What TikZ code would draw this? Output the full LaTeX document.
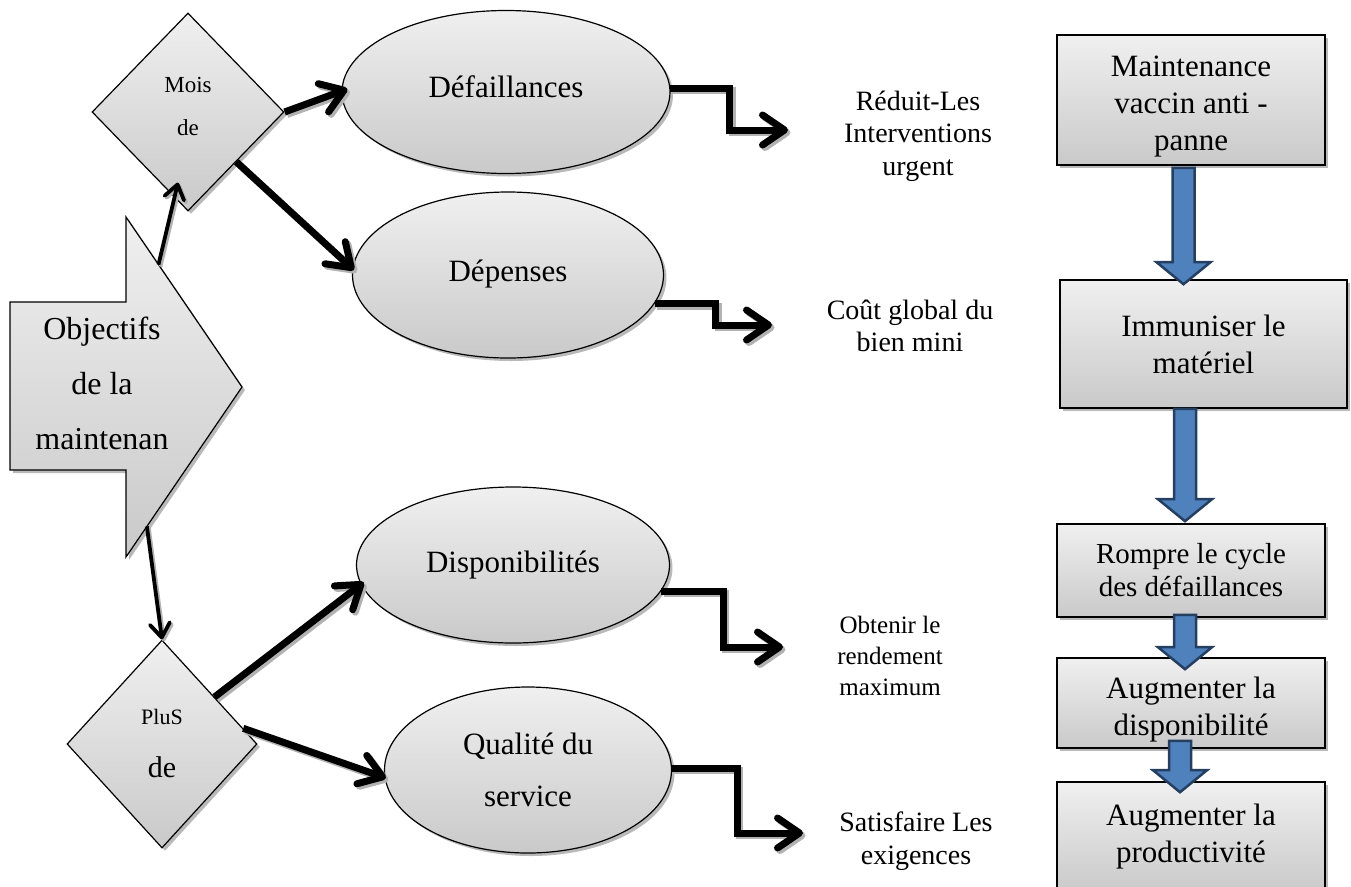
\documentclass[tikz,border=0pt]{standalone}
\usepackage{fontspec}
\setmainfont{Liberation Serif}
\usetikzlibrary{shapes.geometric, arrows.meta, positioning, calc, shadows}

\definecolor{arrowblue}{HTML}{4F81BD}
\definecolor{arrownavy}{HTML}{243F60}

\newcommand{\fobj}{\fontsize{32}{55}\selectfont}
\newcommand{\fell}{\fontsize{31}{52}\selectfont}
\newcommand{\fside}{\fontsize{28}{32.5}\selectfont}
\newcommand{\fsidesm}{\fontsize{25}{31}\selectfont}
\newcommand{\frect}{\fontsize{31}{37}\selectfont}
\newcommand{\frectsm}{\fontsize{29}{33}\selectfont}

\tikzset{
  shadowed/.style={drop shadow={shadow xshift=3pt, shadow yshift=-3pt, fill=gray!55, opacity=1}},
  grayfill/.style={draw, top color=gray!12, bottom color=gray!42, shadowed},
  oval/.style={ellipse, grayfill, line width=1.2pt, align=center, font=\fell},
  losange/.style={diamond, grayfill, line width=1.2pt, align=center, inner sep=0pt},
  rectbox/.style={rectangle, grayfill, line width=1.6pt, align=center, font=\frect},
  sidetxt/.style={align=center, font=\fside},
  link/.style={line width=7pt, -{Straight Barb[length=22pt, width=30pt, round]},
    preaction={draw=gray!60, line width=7pt, -{Straight Barb[length=22pt, width=30pt, round]},
      transform canvas={xshift=2.5pt, yshift=-2.5pt}}},
  thinlink/.style={line width=3.8pt, -{Straight Barb[length=14pt, width=20pt, round]},
    preaction={draw=gray!60, line width=3.8pt, -{Straight Barb[length=14pt, width=20pt, round]},
      transform canvas={xshift=2pt, yshift=-2pt}}},
  bluearrow/.style={fill=arrowblue, draw=arrownavy, line width=2.5pt, line join=miter}
}

% block arrow from a start point down to a tip
\newcommand{\blockarrow}[2]{%
  \draw[bluearrow] let \p1=#1, \p2=#2 in
    (\x2-11pt,\y1) -- (\x2+11pt,\y1) -- (\x2+11pt,\y2+22pt) -- (\x2+27pt,\y2+22pt)
    -- (\x2,\y2) -- (\x2-27pt,\y2+22pt) -- (\x2-11pt,\y2+22pt) -- cycle;}

\begin{document}
\begin{tikzpicture}[x=1pt, y=-1pt]
\useasboundingbox (0,0) rectangle (1351,886);
\clip (0,0) rectangle (1351,886);

% big arrow on the left
\coordinate (hT) at (126,217);
\coordinate (hB) at (126,557);
\coordinate (hTip) at (242,387);
\draw[grayfill, line width=1.2pt] (10,302) -- (126,302) -- (hT) -- (hTip) -- (hB) -- (126,470) -- (10,470) -- cycle;
\node[align=center, font=\fobj] (obj) at (102,383) {Objectifs\\de la\\maintenan};

% diamonds
\node[losange, minimum width=192pt, minimum height=198pt] (d1) at (188,112) {};
\node[font=\fontsize{23}{43}\selectfont, align=center] (d1txt) at (188,106) {Mois\\de};
\node[losange, minimum width=190pt, minimum height=208pt] (d2) at (162,744) {};
\node[font=\fontsize{22}{24}\selectfont] (d2a) at (162,717) {PluS};
\node[font=\fontsize{30}{36}\selectfont] (d2b) at (162,767) {de};

% ellipses
\node[oval, minimum width=328pt, minimum height=163pt] (def) at (506,92) {\raisebox{10pt}{Défaillances}};
\node[oval, minimum width=311pt, minimum height=166pt] (dep) at (508,275) {\raisebox{8pt}{Dépenses}};
\node[oval, minimum width=313pt, minimum height=156pt] (dis) at (513,565) {\raisebox{7pt}{Disponibilités}};
\node[oval, minimum width=287pt, minimum height=166pt] (qual) at (528,770) {Qualité du\\service};

% side texts
\node[sidetxt] (t1) at (918,136) {Réduit-Les\\Interventions\\urgent};
\node[sidetxt] (t2) at (910,326) {Coût global du\\bien mini};
\node[sidetxt, font=\fsidesm] (t3) at (890,656) {Obtenir le\\rendement\\maximum};
\node[sidetxt] (t4) at (916,841) {Satisfaire Les\\exigences};

% right column
\node[rectbox, minimum width=268pt, minimum height=130pt] (b1) at (1191,100) {\rule{0pt}{34pt}Maintenance\\vaccin anti -\\panne};
\node[rectbox, minimum width=287pt, minimum height=128pt] (b2) at (1203.5,344) {Immuniser le\\matériel};
\node[rectbox, font=\frectsm, minimum width=268pt, minimum height=93pt] (b3) at (1191,570.5) {Rompre le cycle\\des défaillances};
\node[rectbox, minimum width=268pt, minimum height=90pt] (b4) at (1191,703) {\rule{0pt}{34pt}Augmenter la\\disponibilité};
\node[rectbox, minimum width=268pt, minimum height=110pt] (b5) at (1191,837) {Augmenter la\\productivité};

% links from the big arrow
\draw[thinlink] ($(hT)!0.28!(hTip)$) -- ($(d1.south)+(-10,-29)$);
\draw[thinlink] ($(hB)!0.18!(hTip)$) -- (d2.north);

% links from diamonds
\draw[link] (d1.east) -- ($(def.west)+(6,-3)$);
\draw[link] ($(d1.east)!0.5!(d1.south)$) -- ($(dep.west)+(2,-5)$);
\draw[link] ($(d2.north)!0.55!(d2.east)$) -- ($(dis.188)+(2,-4)$);
\draw[link] ($(d2.north)!0.85!(d2.east)$) -- ($(qual.west)+(2,8)$);

% elbow links
\coordinate (e1) at (788,130);
\coordinate (e2) at (772,325);
\coordinate (e3) at (783,647);
\coordinate (e4) at (803,833);
\draw[link] ($(def.east)+(-1,-4)$) -- ++(60,0) |- (e1);
\draw[link] (dep.-11) -- ++(61,0) |- (e2);
\draw[link] (dis.-10) -- ++(62,0) |- (e3);
\draw[link] ($(qual.east)+(-1,-2)$) -- ++(66,0) |- (e4);

% blue arrows
\blockarrow{($(b1.south)+(-7,2)$)}{($(b2.north)+(-20,5)$)}
\blockarrow{($(b2.south)+(-18,0)$)}{($(b3.north)+(-6,-2)$)}
\blockarrow{($(b3.south)+(-6,-3)$)}{($(b4.north)+(-6,12)$)}
\blockarrow{($(b4.south)+(-11,-8)$)}{($(b5.north)+(-11,11)$)}
\end{tikzpicture}
\end{document}
